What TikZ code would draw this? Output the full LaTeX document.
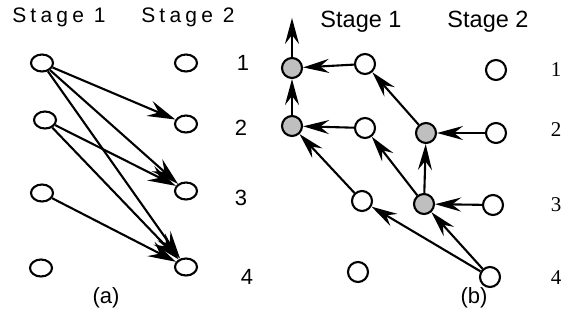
\documentclass[tikz,border=0pt]{standalone}
\usepackage{fontspec}
\setmainfont{Liberation Sans}
\newfontfamily\serifnum{Liberation Serif}
\usetikzlibrary{arrows.meta,shapes.geometric}
\begin{document}
\begin{tikzpicture}[x=1pt,y=-1pt,
  lbl/.style={font=\fontsize{22}{26}\selectfont, inner sep=0pt},
  hdr/.style={font=\fontsize{23.5}{28}\selectfont, inner sep=0pt},
  spaced/.style={font=\fontsize{21}{25}\selectfont\addfontfeatures{LetterSpace=20}, inner sep=0pt},
  snum/.style={font=\fontsize{21}{25}\selectfont\serifnum, inner sep=0pt},
  ell/.style={draw, line width=2.1pt, shape=ellipse, minimum width=22pt, minimum height=17pt, inner sep=0pt},
  wc/.style={draw, line width=2.1pt, shape=circle, minimum size=20pt, inner sep=0pt, fill=white},
  gc/.style={wc, fill=black!25},
  arra/.style={line width=2.1pt, -{Stealth[length=28pt,width=16pt,inset=10pt]}},
  arrb/.style={line width=2.1pt, -{Stealth[length=26pt,width=14pt,inset=9pt]}},
]
\useasboundingbox (0,0) rectangle (563,335);
% ---------- panel (a)
\node[spaced] (ha1) at (59,17) {Stage 1};
\node[spaced] (ha2) at (188,17) {Stage 2};
\node[ell] (L1) at (42,63) {};
\node[ell] (L2) at (45,120) {};
\node[ell] (L3) at (42,193) {};
\node[ell] (L4) at (41,268) {};
\node[ell] (R1) at (186,63) {};
\node[ell] (R2) at (186,124) {};
\node[ell] (R3) at (186,191) {};
\node[ell] (R4) at (186,267) {};
\node[lbl] (na1) at (243,63) {1};
\node[lbl] (na2) at (241,128) {2};
\node[lbl] (na3) at (241,198) {3};
\node[lbl] (na4) at (247,277) {4};
\node[lbl] (capa) at (106,298) {(a)};
\draw[arra] (L1) -- (R2);
\draw[arra] (L1) -- (R3);
\draw[arra] (L1) -- (R4);
\draw[arra] (L2) -- (R3);
\draw[arra] (L2) -- (R4);
\draw[arra] (L3) -- (R4);
% ---------- panel (b)
\node[hdr] (hb1) at (361,22) {Stage 1};
\node[hdr] (hb2) at (488,22) {Stage 2};
\node[gc] (A1) at (292,68) {};
\node[gc] (A2) at (292,126) {};
\node[wc] (B1) at (365,64) {};
\node[wc] (B2) at (365,128) {};
\node[wc] (B3) at (362,201) {};
\node[wc] (B4) at (358,272) {};
\node[gc] (C2) at (426,133) {};
\node[gc] (C3) at (424,204) {};
\node[wc] (D1) at (496,70) {};
\node[wc] (D2) at (496,133) {};
\node[wc] (D3) at (493,205) {};
\node[wc] (D4) at (490,277) {};
\coordinate (top) at (292,18);
\node[snum] (nb1) at (556,70) {1};
\node[snum] (nb2) at (556,130) {2};
\node[snum] (nb3) at (556,205) {3};
\node[snum] (nb4) at (556,278) {4};
\node[lbl] (capb) at (474,298) {(b)};
\draw[arrb] (A1) -- (top);
\draw[arrb] (A2) -- (A1);
\draw[arrb] (B1) -- (A1);
\draw[arrb] (B2) -- (A2);
\draw[arrb] (B3) -- (A2);
\draw[arrb] (C2) -- (B1);
\draw[arrb] (D2) -- (C2);
\draw[arrb] (C3) -- (C2);
\draw[arrb] (C3) -- (B2);
\draw[arrb] (D3) -- (C3);
\draw[arrb] (D4) -- (C3);
\draw[arrb] (D4) -- (B3);
\end{tikzpicture}
\end{document}
